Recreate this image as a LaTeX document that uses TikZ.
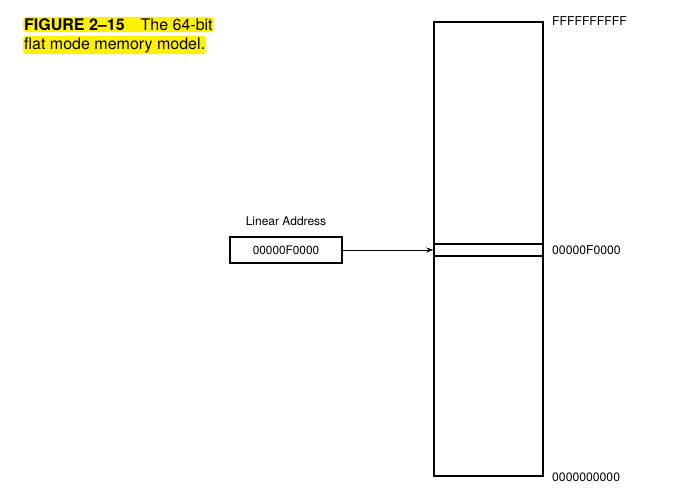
\documentclass[tikz,border=0pt]{standalone}
\usepackage{fontspec}
\setmainfont{TeX Gyre Heros}
\usetikzlibrary{arrows.meta, positioning}

\tikzset{
	caption/.style = {fill = yellow, rounded corners = 3pt, inner xsep = 1pt, inner ysep = 1.5pt, anchor = west, font = \fontsize{16}{18}\selectfont},
	membox/.style = {draw, line width = 1.5pt, minimum width = 109, minimum height = 454, inner sep = 0pt},
	slotbox/.style = {draw, line width = 1.5pt, minimum width = 109, minimum height = 12, inner sep = 0pt},
	addrbox/.style = {draw, line width = 1.2pt, minimum width = 112, minimum height = 26, inner sep = 0pt, font = \fontsize{11.8}{13}\selectfont},
	addrlabel/.style = {anchor = west, inner sep = 0pt, font = \fontsize{12.2}{14}\selectfont},
}

\begin{document}
\begin{tikzpicture}[x = 1pt, y = -1pt]
	\useasboundingbox (0,0) rectangle (696,490);

	% figure caption
	\node [caption] (title top) at (23,24.5) {\textbf{FIGURE 2--15}\hspace{16pt}The 64-bit};
	\node [caption] (title bottom) at (23,45) {flat mode memory model.};

	% memory column
	\node [membox] (memory) at (488.5,249) {};
	\node [slotbox] (slot) at (488.5,250) {};

	\node [addrlabel] (top address) at (552,21) {FFFFFFFFFF};
	\node [addrlabel] (slot address) at (552,250) {00000F0000};
	\node [addrlabel] (bottom address) at (552,477) {0000000000};

	% linear address
	\node [addrbox] (linear) at (286,250) {00000F0000};
	\node [font = \fontsize{12}{14}\selectfont, above = 7pt of linear] (linear label) {Linear Address};

	\draw [line width = 0.6pt, -{Stealth[length = 7pt, width = 5pt]}] (linear.east) -- (slot.west);
\end{tikzpicture}
\end{document}
